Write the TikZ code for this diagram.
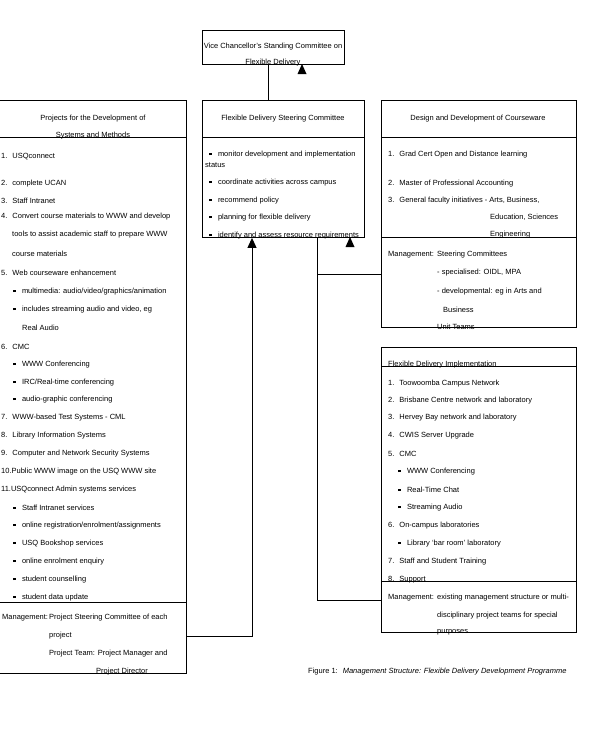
\documentclass[tikz,border=0pt]{standalone}
\usepackage{fontspec}
\setmainfont{Liberation Sans}
\usetikzlibrary{arrows.meta}
\newcommand{\bulsq}{\rule[1.3pt]{2.3pt}{2.3pt}\hspace{6.5pt}}
\newcommand{\tline}[4]{\node[txt] (#1) at (#2,#3) {#4};}
\begin{document}
\begin{tikzpicture}[x=1pt,y=-1pt,
  box/.style={draw, line width=0.9pt, inner sep=0pt, anchor=north west},
  txt/.style={anchor=west, inner sep=0pt, yshift=-1.5pt, font=\fontsize{7.5}{8}\selectfont},
  ctxt/.style={anchor=center, inner sep=0pt, yshift=-1.5pt, font=\fontsize{7.5}{8}\selectfont},
  divline/.style={line width=0.9pt},
  conn/.style={line width=0.9pt},
  tri/.style={fill=black}]
\useasboundingbox (0,0) rectangle (610,729);
% ---------- boxes ----------
\node[box, minimum width=142pt, minimum height=34pt] (vc) at (202,30) {};
\node[box, minimum width=162pt, minimum height=137pt] (fdsc) at (202,100) {};
\node[box, minimum width=187pt, minimum height=573pt] (proj) at (-1,100) {};
\node[box, minimum width=195pt, minimum height=227pt] (ddc) at (381,100) {};
\node[box, minimum width=195pt, minimum height=285pt] (fdi) at (381,347) {};
% dividers
\draw[divline] (fdsc.west |- 0,137) -- (fdsc.east |- 0,137);
\draw[divline] (proj.west |- 0,137) -- (proj.east |- 0,137);
\draw[divline] (proj.west |- 0,602) -- (proj.east |- 0,602);
\draw[divline] (ddc.west |- 0,137) -- (ddc.east |- 0,137);
\draw[divline] (ddc.west |- 0,237) -- (ddc.east |- 0,237);
\draw[divline] (fdi.west |- 0,366) -- (fdi.east |- 0,366);
\draw[divline] (fdi.west |- 0,581) -- (fdi.east |- 0,581);
% ---------- top box text ----------
\node[ctxt] (vc1) at (273,45) {Vice Chancellor's Standing Committee on};
\node[ctxt] (vc2) at (273,61) {Flexible Delivery};
% ---------- middle box ----------
\node[ctxt] (m0) at (283,117) {Flexible Delivery Steering Committee};
\tline{m1}{209}{153}{\bulsq monitor development and implementation}
\tline{m1b}{205}{164}{status}
\tline{m2}{209}{181}{\bulsq coordinate activities across campus}
\tline{m3}{209}{199}{\bulsq recommend policy}
\tline{m4}{209}{216}{\bulsq planning for flexible delivery}
\tline{m5}{209}{234}{\bulsq identify and assess resource requirements}
% ---------- left box ----------
\node[ctxt] (p0a) at (93,117) {Projects for the Development of};
\node[ctxt] (p0b) at (93,134) {Systems and Methods};
\tline{p1}{1}{155}{1.\hspace{5pt}USQconnect}
\tline{p2}{1}{182}{2.\hspace{5pt}complete UCAN}
\tline{p3}{1}{199}{3.\hspace{5pt}Staff Intranet}
\tline{p4}{1}{215}{4.\hspace{5pt}Convert course materials to WWW and develop}
\tline{p4b}{12}{233}{tools to assist academic staff to prepare WWW}
\tline{p4c}{12}{252}{course materials}
\tline{p5}{1}{271}{5.\hspace{5pt}Web courseware enhancement}
\tline{p5a}{13}{290}{\bulsq multimedia: audio/video/graphics/animation}
\tline{p5b}{13}{308}{\bulsq includes streaming audio and video, eg}
\tline{p5c}{22}{326}{Real Audio}
\tline{p6}{1}{345}{6.\hspace{5pt}CMC}
\tline{p6a}{13}{363}{\bulsq WWW Conferencing}
\tline{p6b}{13}{381}{\bulsq IRC/Real-time conferencing}
\tline{p6c}{13}{398}{\bulsq audio-graphic conferencing}
\tline{p7}{1}{416}{7.\hspace{5pt}WWW-based Test Systems - CML}
\tline{p8}{1}{434}{8.\hspace{5pt}Library Information Systems}
\tline{p9}{1}{452}{9.\hspace{5pt}Computer and Network Security Systems}
\tline{p10}{1}{470}{10.Public WWW image on the USQ WWW site}
\tline{p11}{1}{488}{11.USQconnect Admin systems services}
\tline{p11a}{13}{506}{\bulsq Staff Intranet services}
\tline{p11b}{13}{524}{\bulsq online registration/enrolment/assignments}
\tline{p11c}{13}{542}{\bulsq USQ Bookshop services}
\tline{p11d}{13}{560}{\bulsq online enrolment enquiry}
\tline{p11e}{13}{578}{\bulsq student counselling}
\tline{p11f}{13}{596}{\bulsq student data update}
\tline{pm1}{2}{616}{Management:}
\tline{pm2}{49}{616}{Project Steering Committee of each}
\tline{pm3}{49}{634}{project}
\tline{pm4}{49}{652}{Project Team: Project Manager and}
\tline{pm5}{96}{670}{Project Director}
% ---------- right top box ----------
\node[ctxt] (d0) at (478,117) {Design and Development of Courseware};
\tline{d1}{388}{153}{1.\hspace{5pt}Grad Cert Open and Distance learning}
\tline{d2}{388}{182}{2.\hspace{5pt}Master of Professional Accounting}
\tline{d3}{388}{199}{3.\hspace{5pt}General faculty initiatives - Arts, Business,}
\tline{d3b}{490}{216}{Education, Sciences}
\tline{d3c}{490}{233}{Engineering}
\tline{dm1}{388}{253}{Management:}
\tline{dm2}{437}{253}{Steering Committees}
\tline{dm3}{437}{271}{- specialised: OIDL, MPA}
\tline{dm4}{437}{290}{- developmental: eg in Arts and}
\tline{dm5}{443}{308}{Business}
\tline{dm6}{437}{325}{Unit Teams}
% ---------- right bottom box ----------
\tline{f0}{388}{363}{Flexible Delivery Implementation}
\tline{f1}{388}{382}{1.\hspace{5pt}Toowoomba Campus Network}
\tline{f2}{388}{399}{2.\hspace{5pt}Brisbane Centre network and laboratory}
\tline{f3}{388}{416}{3.\hspace{5pt}Hervey Bay network and laboratory}
\tline{f4}{388}{434}{4.\hspace{5pt}CWIS Server Upgrade}
\tline{f5}{388}{452}{5.\hspace{5pt}CMC}
\tline{f5a}{398}{470}{\bulsq WWW Conferencing}
\tline{f5b}{398}{488}{\bulsq Real-Time Chat}
\tline{f5c}{398}{506}{\bulsq Streaming Audio}
\tline{f6}{388}{524}{6.\hspace{5pt}On-campus laboratories}
\tline{f6a}{398}{542}{\bulsq Library `bar room' laboratory}
\tline{f7}{388}{560}{7.\hspace{5pt}Staff and Student Training}
\tline{f8}{388}{578}{8.\hspace{5pt}Support}
\tline{fm1}{388}{596}{Management:}
\tline{fm2}{437}{596}{existing management structure or multi-}
\tline{fm3}{437}{614}{disciplinary project teams for special}
\tline{fm4}{437}{631}{purposes}
% ---------- caption ----------
\tline{cap}{308}{670}{Figure 1:\hspace{5pt}\itshape Management Structure: Flexible Delivery Development Programme}
% ---------- connectors ----------
\coordinate (xa) at (268,0);
\coordinate (xb) at (252,636);
\coordinate (xc) at (317,600);
\coordinate (yb) at (0,274);
\draw[conn] (xa |- vc.south) -- (xa |- fdsc.north);
\draw[conn, -{Triangle[length=10pt,width=9pt]}] (proj.east |- xb) -- (xb) -- (xb |- fdsc.south);
\draw[conn] (xc |- fdsc.south) -- (xc) -- (fdi.west |- xc);
\draw[conn] (xc |- yb) -- (ddc.west |- yb);
% loose arrowheads
\coordinate (t1) at (302,64);
\coordinate (t2) at (350,237);
\fill[tri] (t1) -- ++(-4.5,10) -- ++(9,0) -- cycle;
\fill[tri] (t2) -- ++(-4.5,10) -- ++(9,0) -- cycle;
\end{tikzpicture}
\end{document}
